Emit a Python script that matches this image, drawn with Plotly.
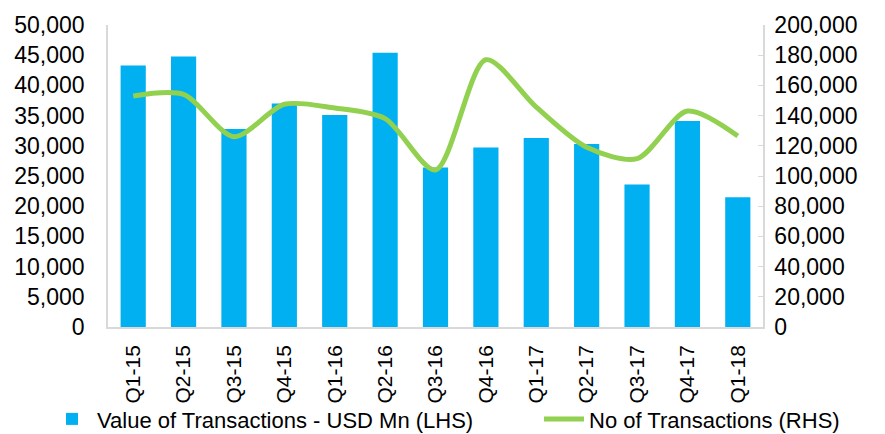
import plotly.graph_objects as go

quarters = ["Q1-15", "Q2-15", "Q3-15", "Q4-15", "Q1-16", "Q2-16", "Q3-16",
            "Q4-16", "Q1-17", "Q2-17", "Q3-17", "Q4-17", "Q1-18"]
value_usd_mn = [43300, 44800, 32800, 37000, 35100, 45400, 26400,
                29700, 31300, 30300, 23600, 34100, 21500]
no_transactions = [153000, 154000, 126000, 147500, 145000, 138000, 104000,
                   177000, 145600, 119000, 111500, 143000, 126500]

FONT = "Liberation Sans"

fig = go.Figure()
fig.add_trace(go.Bar(
    x=quarters, y=value_usd_mn, name="Value of Transactions - USD Mn (LHS)",
    marker=dict(color="#00B0F0", line=dict(width=0)), yaxis="y", legend="legend"))
fig.add_trace(go.Scatter(
    x=quarters, y=no_transactions, name="No of Transactions (RHS)",
    mode="lines", line=dict(color="#92D050", width=5, shape="spline", smoothing=0.8),
    yaxis="y2", legend="legend2"))

legend_common = dict(orientation="h", yanchor="middle", y=-0.305,
                     font=dict(size=22, family=FONT), bgcolor="rgba(0,0,0,0)",
                     itemwidth=40)

fig.update_layout(
    width=885, height=434,
    margin=dict(l=108, r=122, t=25, b=107, autoexpand=False),
    paper_bgcolor="white", plot_bgcolor="white",
    font=dict(family=FONT, size=23, color="#000000"),
    bargap=0.5,
    showlegend=True,
    legend=dict(x=-0.0931, xanchor="left", **legend_common),
    legend2=dict(x=0.658, xanchor="left", **legend_common),
    xaxis=dict(tickangle=-90, showline=True, linecolor="#d9d9d9", linewidth=1.5,
               showgrid=False, ticks="", tickfont=dict(size=21), automargin=False,
               ticklabelstandoff=8),
    yaxis=dict(range=[0, 50000], dtick=5000, tickformat=",d", showgrid=False,
               showline=True, linecolor="#d9d9d9", linewidth=1.5, ticks="",
               zeroline=False, tickfont=dict(size=23), automargin=False,
               ticklabelstandoff=17),
    yaxis2=dict(range=[0, 200000], dtick=20000, tickformat=",d", overlaying="y",
                side="right", showgrid=False, showline=True, linecolor="#d9d9d9",
                linewidth=1.5, ticks="inside", ticklen=5, tickcolor="#d9d9d9",
                zeroline=False, tickfont=dict(size=23), automargin=False,
                ticklabelstandoff=5),
)

fig.write_html("out.html", config={"displayModeBar": False},
               post_script="document.body.style.margin='0';")
